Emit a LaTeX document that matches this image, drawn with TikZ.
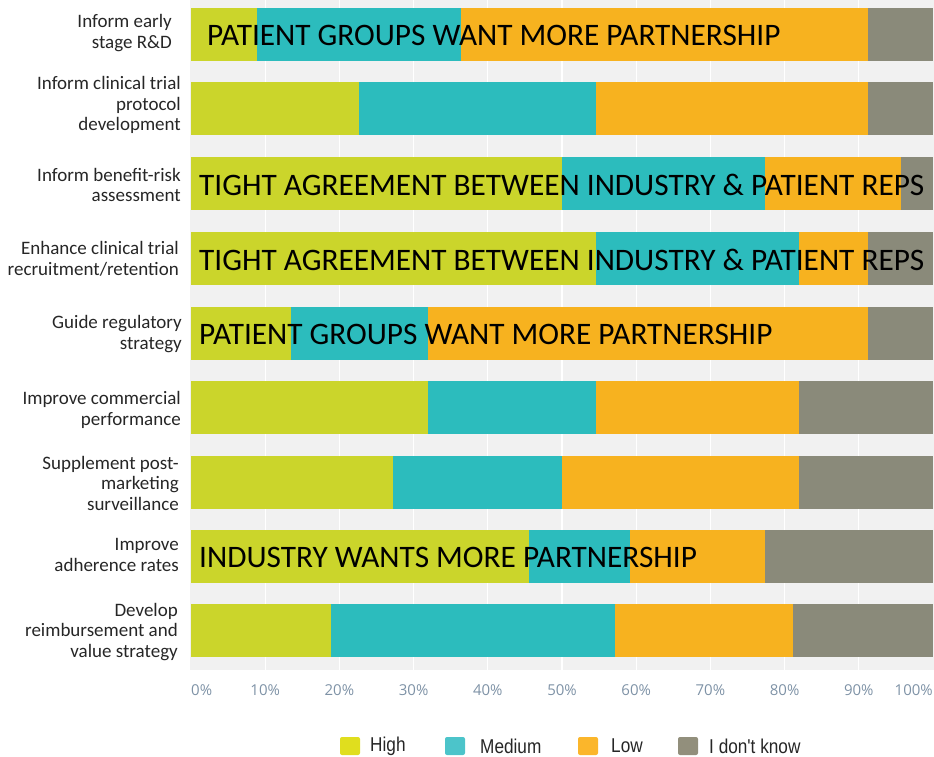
\documentclass[tikz,border=0pt]{standalone}
\usepackage{fontspec}
\setmainfont{Carlito}
\newfontfamily\legendfont[FakeStretch=0.86]{Liberation Sans}
\newfontfamily\tickfont{Open Sans}
\definecolor{high}{HTML}{CBD52B}
\definecolor{medium}{HTML}{2CBCBD}
\definecolor{low}{HTML}{F7B21F}
\definecolor{dunno}{HTML}{8A8A7A}
\definecolor{keyhigh}{HTML}{E0DE1E}
\definecolor{keymedium}{HTML}{4CC4CA}
\definecolor{keylow}{HTML}{FBB62B}
\definecolor{keydunno}{HTML}{928F7C}
\definecolor{plotbg}{HTML}{F1F1F1}
\definecolor{ticktext}{HTML}{7E92A6}
\definecolor{labeltext}{HTML}{262626}

\begin{document}
\begin{tikzpicture}[x=1pt, y=-1pt,
    rowlabel/.style={anchor=east, align=right, text=labeltext, inner sep=0pt,
        font=\fontsize{19}{20.5}\selectfont},
    remark/.style={anchor=west, inner sep=0pt, font=\fontsize{31.3}{31.3}\selectfont},
    tick/.style={inner sep=0pt, text=ticktext, font=\tickfont\fontsize{15}{15}\selectfont},
    key/.style={fill=#1, rounded corners=2pt, minimum width=20pt, minimum height=18pt, inner sep=0pt},
    keytext/.style={anchor=west, inner sep=0pt, text=labeltext, font=\legendfont\fontsize{20}{20}\selectfont}]
        \useasboundingbox (0, 0) rectangle (934, 757);
        % plot background with white grid
        \fill[plotbg] (190, 0) rectangle (934, 670);
        \foreach \i in {1, ..., 9}{
            \draw[white, line width=1.2pt] (191+74.2*\i, 0) -- (191+74.2*\i, 670);
        }
        % stacked bars: centre, then end of high, medium, low (in %)
        \foreach \y/\a/\b/\c in {
            35/8.9/36.4/91.2, 109/22.6/54.6/91.2, 183.5/50/77.4/95.7,
            258.5/54.6/81.9/91.2, 333.5/13.5/31.9/91.2, 407.5/31.9/54.6/82,
            482/27.2/50/82, 556.5/45.5/59.2/77.4, 630.5/18.9/57.2/81.1
        }{
            \fill[high] (191, \y-26.5) rectangle (191+7.42*\a, \y+26.5);
            \fill[medium] (191+7.42*\a, \y-26.5) rectangle (191+7.42*\b, \y+26.5);
            \fill[low] (191+7.42*\b, \y-26.5) rectangle (191+7.42*\c, \y+26.5);
            \fill[dunno] (191+7.42*\c, \y-26.5) rectangle (933, \y+26.5);
        }
        % row labels
        \node[rowlabel] (lab1) at (172, 33) {Inform early\\stage R\&D};
        \node[rowlabel] (lab2) at (181, 105) {Inform clinical trial\\protocol\\development};
        \node[rowlabel] (lab3) at (181, 185) {Inform benefit-risk\\assessment};
        \node[rowlabel] (lab4) at (179, 259) {Enhance clinical trial\\recruitment/retention};
        \node[rowlabel] (lab5) at (182, 334) {Guide regulatory\\strategy};
        \node[rowlabel] (lab6) at (181, 410) {Improve commercial\\performance};
        \node[rowlabel] (lab7) at (179, 483) {Supplement post-\\marketing\\surveillance};
        \node[rowlabel] (lab8) at (179, 555) {Improve\\adherence rates};
        \node[rowlabel] (lab9) at (178, 632) {Develop\\reimbursement and\\value strategy};
        % remarks written over the bars
        \node[remark] (note1) at (207, 35) {PATIENT GROUPS WANT MORE PARTNERSHIP};
        \node[remark] (note3) at (199, 185) {TIGHT AGREEMENT BETWEEN INDUSTRY \& PATIENT REPS};
        \node[remark] (note4) at (199, 260) {TIGHT AGREEMENT BETWEEN INDUSTRY \& PATIENT REPS};
        \node[remark] (note5) at (199, 334) {PATIENT GROUPS WANT MORE PARTNERSHIP};
        \node[remark] (note8) at (199, 557) {INDUSTRY WANTS MORE PARTNERSHIP};
        % axis ticks
        \node[tick, anchor=west] (tick0) at (191, 690) {0\%};
        \foreach \i in {1, ..., 9}{
            \node[tick] (tick\i) at (191+74.2*\i, 690) {\i0\%};
        }
        \node[tick, anchor=east] (tick10) at (933, 690) {100\%};
        % legend
        \node[key=keyhigh] (khigh) at (350, 746) {};
        \node[keytext] (thigh) at (370, 746) {High};
        \node[key=keymedium] (kmedium) at (455, 746) {};
        \node[keytext] (tmedium) at (480, 746) {Medium};
        \node[key=keylow] (klow) at (588, 746) {};
        \node[keytext] (tlow) at (611, 746) {Low};
        \node[key=keydunno] (kdunno) at (688, 746) {};
        \node[keytext] (tdunno) at (709, 746) {I don't know};
    \end{tikzpicture}
\end{document}
